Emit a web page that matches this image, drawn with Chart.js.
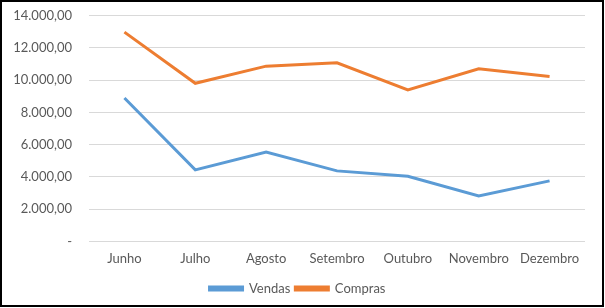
<!DOCTYPE html>
<html>
<head>
<meta charset="utf-8">
<script src="https://cdn.jsdelivr.net/npm/chart.js@4"></script>
<style>
  body { margin: 0; background: #fff; }
  #wrap { position: relative; width: 605px; height: 308px; }
  #frame { position: absolute; left: 0; top: 0; width: 600px; height: 303px; border: 2px solid #000; pointer-events: none; }
</style>
</head>
<body>
<div id="wrap">
  <canvas id="chartVendas" width="605" height="308"></canvas>
  <div id="frame"></div>
</div>
<script>
var meses = ['Junho', 'Julho', 'Agosto', 'Setembro', 'Outubro', 'Novembro', 'Dezembro'];
var vendas = [8890, 4430, 5530, 4370, 4040, 2810, 3750];
var compras = [12970, 9800, 10860, 11070, 9385, 10700, 10220];

function formatoBR(v) {
    if (v === 0) return '-';
    return v.toLocaleString('pt-BR', { minimumFractionDigits: 2, maximumFractionDigits: 2 });
}

var ctx = document.getElementById('chartVendas').getContext('2d');
new Chart(ctx, {
    type: 'line',
    data: {
        labels: meses,
        datasets: [{
            label: 'Vendas',
            data: vendas,
            borderColor: '#5B9BD5',
            backgroundColor: '#5B9BD5',
            borderWidth: 3,
            pointRadius: 0,
            tension: 0
        }, {
            label: 'Compras',
            data: compras,
            borderColor: '#ED7D31',
            backgroundColor: '#ED7D31',
            borderWidth: 3,
            pointRadius: 0,
            tension: 0
        }]
    },
    options: {
        responsive: false,
        animation: false,
        layout: { padding: { left: 10, right: 20, top: 15.5, bottom: 3 } },
        font: { family: 'Lato' },
        plugins: {
            tooltip: { enabled: false },
            legend: {
                position: 'bottom',
                labels: {
                    boxWidth: 33,
                    boxHeight: 3,
                    padding: 5,
                    color: '#595959',
                    font: { family: 'Lato', size: 13 }
                }
            }
        },
        scales: {
            x: {
                offset: true,
                grid: { display: false, drawTicks: false, tickLength: 0 },
                border: { display: false },
                ticks: { color: '#595959', font: { family: 'Lato', size: 13 }, padding: 10, maxRotation: 0 }
            },
            y: {
                min: 0,
                max: 14000,
                grid: { color: '#d9d9d9', lineWidth: 1, drawTicks: false },
                border: { display: false },
                afterFit: function (axis) {
                    axis.width = 79;
                    axis.paddingTop = 0;
                    axis.paddingBottom = 0;
                },
                ticks: {
                    stepSize: 2000,
                    color: '#595959',
                    padding: 17,
                    font: { family: 'Lato', size: 13 },
                    callback: function (v) { return formatoBR(v); }
                }
            }
        }
    }
});
</script>
</body>
</html>
